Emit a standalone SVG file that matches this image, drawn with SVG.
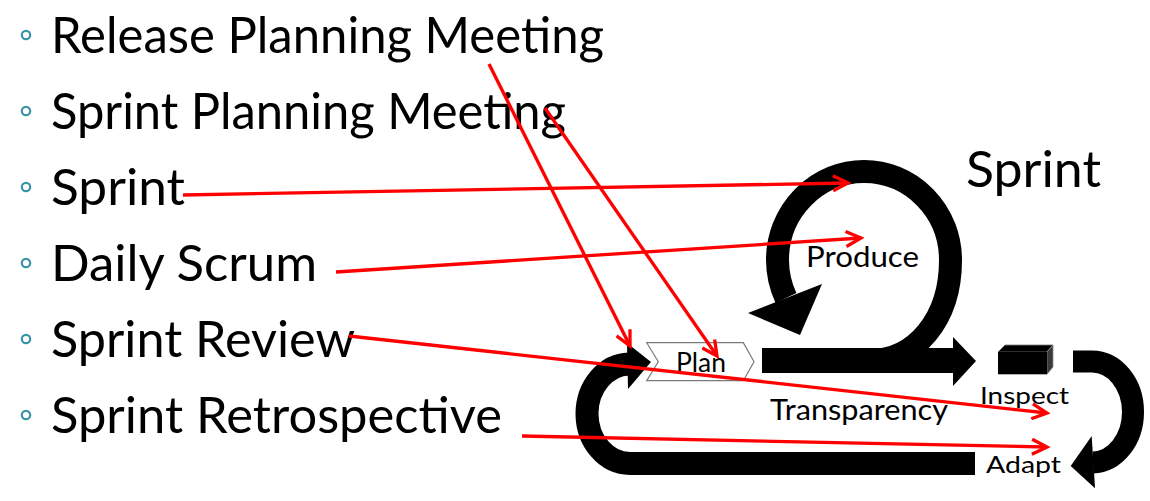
<svg xmlns="http://www.w3.org/2000/svg" width="1150" height="501" viewBox="0 0 1150 501">
  <style>
    .item { font-family: Lato, "Noto Sans", "Liberation Sans", sans-serif; font-size: 50px; fill: #000; }
    .bullet { fill: none; stroke: #3d92ab; stroke-width: 2.2; }
    .lbl { font-family: Lato, "Noto Sans", "Liberation Sans", sans-serif; fill: #000; }
    .band { fill: none; stroke: #000; }
    .solid { fill: #000; }
    .link { fill: none; stroke: #ff0000; stroke-width: 3.3; marker-end: url(#open-arrow); }
  </style>
  <defs>
    <marker id="open-arrow" markerUnits="userSpaceOnUse" markerWidth="20" markerHeight="18" viewBox="0 0 20 18" refX="17" refY="9" orient="auto">
      <path d="M2 1.5 L17 9 L2 16.5" fill="none" stroke="#ff0000" stroke-width="3.3" stroke-linejoin="miter"/>
    </marker>
  </defs>

  <rect width="1150" height="501" fill="#fff"/>

  <!-- bullet list -->
  <g id="item-release-planning">
    <circle class="bullet" cx="26" cy="35" r="4.2"/>
    <text class="item" x="51" y="53" textLength="553" lengthAdjust="spacingAndGlyphs">Release Planning Meeting</text>
  </g>
  <g id="item-sprint-planning">
    <circle class="bullet" cx="26" cy="111" r="4.2"/>
    <text class="item" x="51" y="129" textLength="515" lengthAdjust="spacingAndGlyphs">Sprint Planning Meeting</text>
  </g>
  <g id="item-sprint">
    <circle class="bullet" cx="26" cy="187" r="4.2"/>
    <text class="item" x="51" y="205" textLength="134" lengthAdjust="spacingAndGlyphs">Sprint</text>
  </g>
  <g id="item-daily-scrum">
    <circle class="bullet" cx="26" cy="263" r="4.2"/>
    <text class="item" x="51" y="281" textLength="266" lengthAdjust="spacingAndGlyphs">Daily Scrum</text>
  </g>
  <g id="item-sprint-review">
    <circle class="bullet" cx="26" cy="339" r="4.2"/>
    <text class="item" x="51" y="357" textLength="304" lengthAdjust="spacingAndGlyphs">Sprint Review</text>
  </g>
  <g id="item-sprint-retro">
    <circle class="bullet" cx="26" cy="415" r="4.2"/>
    <text class="item" x="51" y="433" textLength="451" lengthAdjust="spacingAndGlyphs">Sprint Retrospective</text>
  </g>

  <!-- sprint cycle -->
  <g id="sprint-title">
    <text class="lbl" x="966" y="187" font-size="50" textLength="135" lengthAdjust="spacingAndGlyphs">Sprint</text>
  </g>

  <g id="produce-loop">
    <path class="band" stroke-width="23" d="M870 360.5 C915 360.5 950.5 320 950.5 260 A86.5 88.5 0 0 0 864 171.5 A86.5 88.5 0 0 0 777.5 260 A86.5 88.5 0 0 0 786 298"/>
    <polygon class="solid" points="748,313 822,284 800,335"/>
    <text class="lbl" x="806" y="267" font-size="28" textLength="113" lengthAdjust="spacingAndGlyphs">Produce</text>
  </g>

  <g id="transparency-bar">
    <rect class="solid" x="762" y="348" width="192" height="25"/>
    <polygon class="solid" points="953,337 976,361 953,386"/>
    <text class="lbl" x="770" y="420" font-size="28" textLength="178" lengthAdjust="spacingAndGlyphs">Transparency</text>
  </g>

  <g id="plan">
    <polygon points="646.7,342.7 743.3,342.7 754,361.7 743.3,380.7 646.7,380.7 658.3,361.7" fill="#fff" stroke="#7a7a7a" stroke-width="1.2"/>
    <text class="lbl" x="676" y="371.5" font-size="27" textLength="50" lengthAdjust="spacingAndGlyphs">Plan</text>
  </g>

  <g id="inspect">
    <polygon points="998,352 1005,345 1053,345 1047,352" fill="#000" stroke="#777" stroke-width="0.8"/>
    <polygon points="1047,352 1053,345 1053,367 1047,374.3" fill="#3a3a3a" stroke="#888" stroke-width="0.8"/>
    <rect x="998" y="352" width="49" height="22.3" fill="#000"/>
    <text class="lbl" x="980" y="404" font-size="24" textLength="89" lengthAdjust="spacingAndGlyphs">Inspect</text>
  </g>

  <g id="adapt-loop">
    <path class="band" stroke-width="22" d="M1073 361.5 H1092 A41 50.5 0 0 1 1133 412 A41 50.5 0 0 1 1093 462.5"/>
    <polygon class="solid" points="1091.7,436 1070.7,466 1095,488.3"/>
    <text class="lbl" x="986" y="473" font-size="24" textLength="75" lengthAdjust="spacingAndGlyphs">Adapt</text>
  </g>

  <g id="feedback-loop">
    <path class="band" stroke-width="23" d="M975 463.5 H630 A43 50 0 0 1 587 413.5 A43 50 0 0 1 629 364"/>
    <polygon class="solid" points="627,343 651,362 628,389"/>
  </g>

  <!-- links from the list to the cycle -->
  <g id="connectors">
    <line class="link" x1="489" y1="64" x2="630" y2="346"/>
    <line class="link" x1="545" y1="108" x2="717" y2="356"/>
    <line class="link" x1="183" y1="195" x2="848" y2="183"/>
    <line class="link" x1="336" y1="272" x2="861" y2="238"/>
    <line class="link" x1="349" y1="336" x2="1047" y2="413"/>
    <line class="link" x1="522" y1="436" x2="1047" y2="447"/>
  </g>
</svg>
